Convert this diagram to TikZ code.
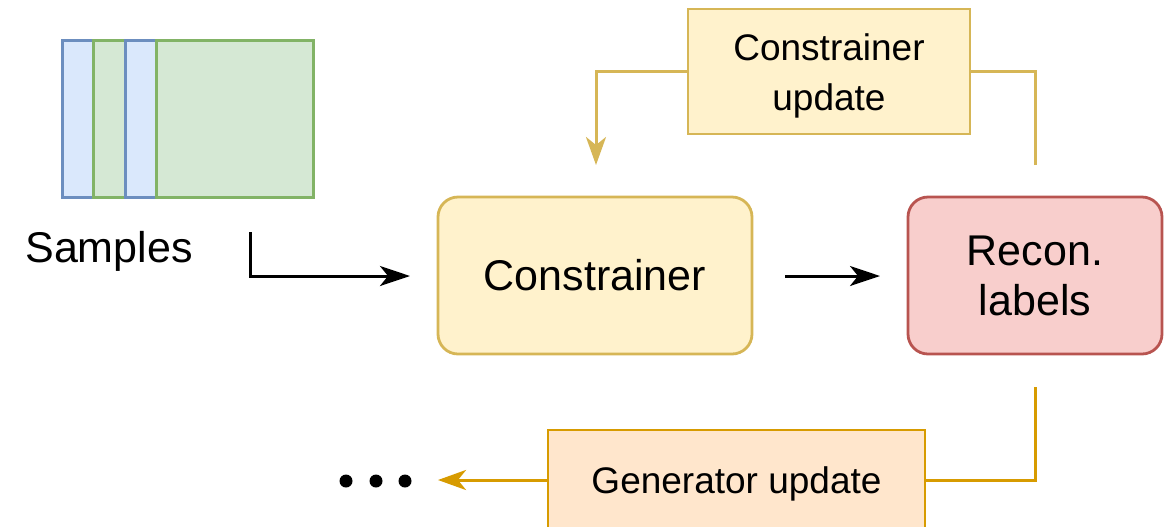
\documentclass[tikz,border=0pt]{standalone}
\usepackage{fontspec}
\setmainfont{Liberation Sans}
\usetikzlibrary{arrows.meta}

\definecolor{blueFill}{HTML}{DAE8FC}
\definecolor{blueLine}{HTML}{6C8EBF}
\definecolor{greenFill}{HTML}{D5E8D4}
\definecolor{greenLine}{HTML}{82B366}
\definecolor{yellowFill}{HTML}{FFF2CC}
\definecolor{yellowLine}{HTML}{D6B656}
\definecolor{redFill}{HTML}{F8CECC}
\definecolor{redLine}{HTML}{B85450}
\definecolor{orangeFill}{HTML}{FFE6CC}
\definecolor{orangeLine}{HTML}{D79B00}

\tikzset{
  card/.style={line width=1.5pt},
  bigtext/.style={font=\fontsize{21.5}{25}\selectfont, align=center},
  smalltext/.style={font=\fontsize{18.5}{25}\selectfont, align=center},
  block/.style={rectangle, inner sep=0pt, line width=1.4pt},
  roundblock/.style={block, rounded corners=10pt},
  flow/.style={line width=1.5pt, -{Stealth[length=15pt,width=10pt,inset=4pt]}},
  feedback/.style={line width=1.5pt, -{Stealth[length=14pt,width=10pt,inset=4pt]}},
  plainline/.style={line width=1.5pt},
  dotmark/.style={circle, fill=black, inner sep=0pt, minimum size=6.5pt}
}

\begin{document}
\begin{tikzpicture}[x=0.5pt, y=-0.5pt]
  \useasboundingbox (0,0) rectangle (1168,526);

  % stack of sample cards
  \draw[card, draw=blueLine, fill=blueFill]   (62,40)  rectangle (219,197);
  \draw[card, draw=greenLine, fill=greenFill] (93,40)  rectangle (250,197);
  \draw[card, draw=blueLine, fill=blueFill]   (125,40) rectangle (282,197);
  \draw[card, draw=greenLine, fill=greenFill] (156,40) rectangle (313,197);

  \node[bigtext] (samples) at (109,251) {Samples};

  % main blocks
  \node[roundblock, bigtext, draw=yellowLine, fill=yellowFill,
        minimum width=157pt, minimum height=78.5pt] (constrainer) at (595,275.5) {Constrainer};
  \node[roundblock, bigtext, draw=redLine, fill=redFill,
        minimum width=127pt, minimum height=78.5pt] (recon) at (1035,275.5) {Recon.\\labels};

  % update blocks
  \node[block, draw=yellowLine, fill=yellowFill,
        minimum width=141pt, minimum height=62.5pt] (cupdate) at (829,71.5) {};
  \node[smalltext] (cupdatetext) at (829,76) {Constrainer\\update};
  \node[block, draw=orangeLine, fill=orangeFill,
        minimum width=188.5pt, minimum height=50pt] (gupdate) at (736.5,480) {};
  \node[smalltext] (gupdatetext) at (736.5,484) {Generator update};

  % continuation dots
  \node[dotmark] (dot1) at (346,481) {};
  \node[dotmark] (dot2) at (376,481) {};
  \node[dotmark] (dot3) at (405,481) {};

  % connector end points
  \coordinate (sampStart) at (250,232);
  \coordinate (sampEnd)   at (410,276);
  \coordinate (midStart)  at (785,276);
  \coordinate (midEnd)    at (880,276);
  \coordinate (cuStart)   at (1035,165);
  \coordinate (cuEnd)     at (596,165);
  \coordinate (guStart)   at (1035,387);
  \coordinate (guEnd)     at (438,480);

  % forward flow
  \draw[flow] (sampStart) |- (sampEnd);
  \draw[flow] (midStart) -- (midEnd);

  % constrainer feedback loop
  \draw[plainline, draw=yellowLine] (cuStart) |- (cupdate.east);
  \draw[feedback, draw=yellowLine] (cupdate.west) -| (cuEnd);

  % generator feedback loop
  \draw[plainline, draw=orangeLine] (guStart) |- (gupdate.east);
  \draw[feedback, draw=orangeLine] (gupdate.west) -- (guEnd);
\end{tikzpicture}
\end{document}
